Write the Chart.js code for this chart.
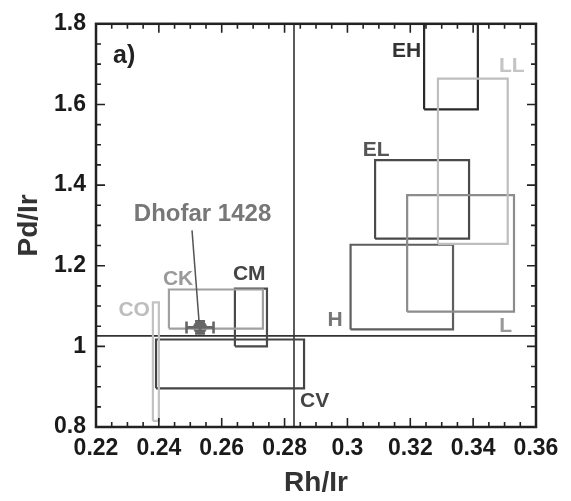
<!DOCTYPE html>
<html>
<head>
<meta charset="utf-8">
<script src="https://cdn.jsdelivr.net/npm/chart.js@4/dist/chart.umd.min.js"></script>
<style>
  html, body { margin: 0; padding: 0; background: #fff; }
  #wrap { width: 571px; height: 501px; }
</style>
</head>
<body>
<div id="wrap"><canvas id="c" width="571" height="501"></canvas></div>
<script>
// Compositional fields: Rh/Ir vs Pd/Ir ranges for chondrite groups
const boxNames = ['CO', 'CK', 'LL', 'L', 'H', 'EL', 'CM', 'CV', 'EH'];
const boxXMin  = [0.2381, 0.2432, 0.3288, 0.3190, 0.3010, 0.3088, 0.2642, 0.2391, 0.3244];
const boxXMax  = [0.2400, 0.2731, 0.3510, 0.3530, 0.3336, 0.3387, 0.2744, 0.2862, 0.3415];
const boxYMin  = [0.815, 1.044, 1.254, 1.086, 1.042, 1.267, 1.000, 0.896, 1.588];
const boxYMax  = [1.109, 1.141, 1.664, 1.375, 1.252, 1.462, 1.143, 1.017, 1.800];

// Reference ratios (solar / CI-type lines)
const refRhIr = [0.283];
const refPdIr = [1.026];

// Meteorite measurement with uncertainties
const sampleName = ['Dhofar 1428'];
const sampleRhIr = [0.2531];
const samplePdIr = [1.047];
const sampleRhIrErr = [0.0043];
const samplePdIrErr = [0.015];

// Axis ticks
const xTicks = [0.22, 0.24, 0.26, 0.28, 0.30, 0.32, 0.34, 0.36];
const yTicks = [0.8, 1.0, 1.2, 1.4, 1.6, 1.8];

const FONT = '"Liberation Sans", Arial, Helvetica, sans-serif';

const boxStyle = {
  CO: { color: '#c2c2c2', label: '#bdbdbd', corner: ['xMin', 'yMax'], dx: -3, dy: 7.5, align: 'right' },
  CK: { color: '#a0a0a0', label: '#9a9a9a', corner: ['xMin', 'yMax'], dx: -6, dy: -10.5, align: 'left' },
  LL: { color: '#bebebe', label: '#c4c4c4', corner: ['xMax', 'yMax'], dx: 4, dy: -12.5, align: 'center' },
  L:  { color: '#8c8c8c', label: '#999999', corner: ['xMax', 'yMin'], dx: -2, dy: 14.5, align: 'right' },
  H:  { color: '#5e5e5e', label: '#777777', corner: ['xMin', 'yMin'], dx: -8, dy: -9.5, align: 'right' },
  EL: { color: '#4a4a4a', label: '#555555', corner: ['xMin', 'yMax'], dx: 1, dy: -9.5, align: 'center' },
  CM: { color: '#4a4a4a', label: '#444444', corner: ['xMin', 'yMax'], dx: -2, dy: -14.5, align: 'left' },
  CV: { color: '#444444', label: '#444444', corner: ['xMax', 'yMin'], dx: -4, dy: 12.5, align: 'left' },
  EH: { color: '#2a2a2a', label: '#333333', corner: ['xMin', 'yMax'], dx: -3, dy: 27, align: 'right' }
};

const datasets = [];

// Closed rectangles for each field
boxNames.forEach((name, i) => {
  const x0 = boxXMin[i], x1 = boxXMax[i], y0 = boxYMin[i], y1 = boxYMax[i];
  datasets.push({
    label: name,
    type: 'line',
    data: [{x: x0, y: y0}, {x: x1, y: y0}, {x: x1, y: y1}, {x: x0, y: y1}, {x: x0, y: y0}],
    borderColor: boxStyle[name].color,
    borderWidth: 2.2,
    pointRadius: 0,
    fill: false,
    tension: 0,
    parsing: false
  });
});

// Reference lines across the full axes
datasets.push({
  label: 'ref Rh/Ir', type: 'line', parsing: false,
  data: [{x: refRhIr[0], y: yTicks[0]}, {x: refRhIr[0], y: yTicks[yTicks.length - 1]}],
  borderColor: '#333333', borderWidth: 1.6, pointRadius: 0, fill: false
});
datasets.push({
  label: 'ref Pd/Ir', type: 'line', parsing: false,
  data: [{x: xTicks[0], y: refPdIr[0]}, {x: xTicks[xTicks.length - 1], y: refPdIr[0]}],
  borderColor: '#333333', borderWidth: 1.6, pointRadius: 0, fill: false
});

// Sample point
datasets.push({
  label: sampleName[0], type: 'scatter', parsing: false,
  data: sampleRhIr.map((x, i) => ({x: x, y: samplePdIr[i]})),
  backgroundColor: '#666666', borderColor: '#666666',
  pointRadius: 6.5, pointStyle: 'circle'
});

const tickFmt = v => String(Number(Number(v).toFixed(2)));

// Error bars, leader line and text annotations
const annotate = {
  id: 'annotate',
  afterDatasetsDraw(chart) {
    const ctx = chart.ctx;
    const xs = chart.scales.x, ys = chart.scales.y;
    ctx.save();

    // error bars of the sample
    sampleRhIr.forEach((xv, i) => {
      const px = xs.getPixelForValue(xv), py = ys.getPixelForValue(samplePdIr[i]);
      const xl = xs.getPixelForValue(xv - sampleRhIrErr[i]);
      const xr = xs.getPixelForValue(xv + sampleRhIrErr[i]);
      const yt = ys.getPixelForValue(samplePdIr[i] + samplePdIrErr[i]);
      const yb = ys.getPixelForValue(samplePdIr[i] - samplePdIrErr[i]);
      ctx.strokeStyle = '#666666';
      ctx.lineWidth = 2.6;
      ctx.beginPath();
      ctx.moveTo(xl, py); ctx.lineTo(xr, py);
      ctx.moveTo(xl, py - 6); ctx.lineTo(xl, py + 6);
      ctx.moveTo(xr, py - 6); ctx.lineTo(xr, py + 6);
      ctx.moveTo(px, yt); ctx.lineTo(px, yb);
      ctx.moveTo(px - 5, yt); ctx.lineTo(px + 5, yt);
      ctx.moveTo(px - 5, yb); ctx.lineTo(px + 5, yb);
      ctx.stroke();

      // leader line and name
      ctx.strokeStyle = '#555555';
      ctx.lineWidth = 1.5;
      ctx.beginPath();
      ctx.moveTo(px - 8, py - 97);
      ctx.lineTo(px - 1, yt);
      ctx.stroke();
      ctx.fillStyle = '#777777';
      ctx.font = 'bold 24px ' + FONT;
      ctx.textAlign = 'center';
      ctx.textBaseline = 'middle';
      ctx.fillText(sampleName[i], px + 2.5, py - 113.5);
    });

    // field names
    ctx.font = 'bold 21px ' + FONT;
    ctx.textBaseline = 'middle';
    boxNames.forEach((name, i) => {
      const st = boxStyle[name];
      const bx = {xMin: boxXMin[i], xMax: boxXMax[i]}[st.corner[0]];
      const by = {yMin: boxYMin[i], yMax: boxYMax[i]}[st.corner[1]];
      ctx.fillStyle = st.label;
      ctx.textAlign = st.align;
      ctx.fillText(name, xs.getPixelForValue(bx) + st.dx, ys.getPixelForValue(by) + st.dy);
    });

    // panel letter
    const area = chart.chartArea;
    ctx.fillStyle = '#222222';
    ctx.font = 'bold 25px ' + FONT;
    ctx.textAlign = 'left';
    ctx.fillText('a)', area.left + 17, area.top + 32);

    // frame with inward ticks on all four sides
    ctx.strokeStyle = '#222222';
    ctx.lineWidth = 2.5;
    ctx.strokeRect(area.left, area.top, area.right - area.left, area.bottom - area.top);
    ctx.lineWidth = 1.6;
    const drawTicks = (scale, values, horizontal) => {
      const majorLen = 9, minorLen = 5;
      const marks = [];
      values.forEach((v, k) => {
        marks.push({v: v, len: majorLen});
        if (k < values.length - 1) {
          const step = (values[k + 1] - v) / 4;
          for (let m = 1; m < 4; m++) marks.push({v: v + step * m, len: minorLen});
        }
      });
      ctx.beginPath();
      marks.forEach(mk => {
        const p = scale.getPixelForValue(mk.v);
        if (horizontal) {
          ctx.moveTo(p, area.bottom); ctx.lineTo(p, area.bottom - mk.len);
          ctx.moveTo(p, area.top); ctx.lineTo(p, area.top + mk.len);
        } else {
          ctx.moveTo(area.left, p); ctx.lineTo(area.left + mk.len, p);
          ctx.moveTo(area.right, p); ctx.lineTo(area.right - mk.len, p);
        }
      });
      ctx.stroke();
    };
    drawTicks(xs, xTicks, true);
    drawTicks(ys, yTicks, false);
    ctx.restore();
  }
};

new Chart(document.getElementById('c'), {
  type: 'scatter',
  data: { datasets: datasets },
  options: {
    responsive: false,
    animation: false,
    layout: { padding: { top: 22, right: 35, left: 0, bottom: 0 } },
    plugins: { legend: { display: false }, tooltip: { enabled: false } },
    scales: {
      x: {
        type: 'linear',
        min: xTicks[0], max: xTicks[xTicks.length - 1],
        afterBuildTicks: s => { s.ticks = xTicks.map(v => ({value: v})); },
        afterFit: s => { s.height = 74; },
        grid: { display: false, drawTicks: false },
        border: { display: false },
        ticks: {
          padding: 8,
          color: '#1a1a1a',
          font: { family: FONT, size: 23, weight: 'bold' },
          maxRotation: 0,
          callback: v => tickFmt(v)
        },
        title: {
          display: true, text: 'Rh/Ir', color: '#333333',
          font: { family: FONT, size: 28, weight: 'bold' },
          padding: { top: 0, bottom: 1 }
        }
      },
      y: {
        type: 'linear',
        min: yTicks[0], max: yTicks[yTicks.length - 1],
        afterBuildTicks: s => { s.ticks = yTicks.map(v => ({value: v})); },
        afterFit: s => { s.width = 96; },
        grid: { display: false, drawTicks: false },
        border: { display: false },
        ticks: {
          padding: 10,
          color: '#1a1a1a',
          font: { family: FONT, size: 23, weight: 'bold' },
          callback: v => tickFmt(v)
        },
        title: {
          display: true, text: 'Pd/Ir', color: '#333333',
          font: { family: FONT, size: 28, weight: 'bold' },
          padding: { top: 12, bottom: 0 }
        }
      }
    }
  },
  plugins: [annotate]
});
</script>
</body>
</html>
